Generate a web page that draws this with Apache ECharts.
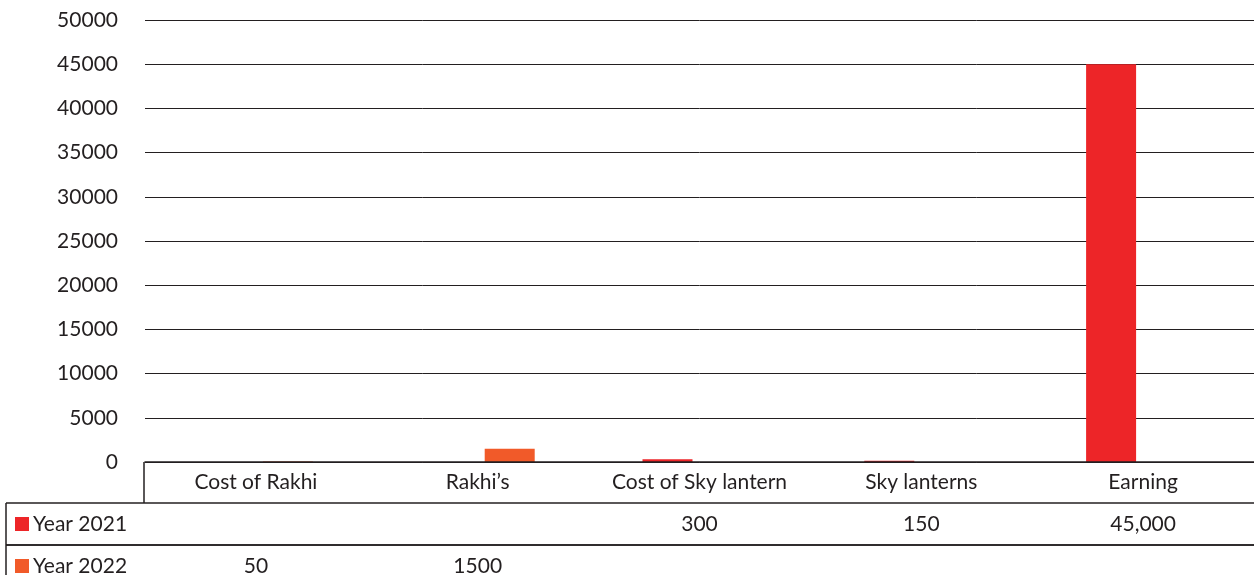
<!DOCTYPE html>
<html>
<head>
<meta charset="utf-8">
<title>Rakhi and Sky lantern earnings</title>
<script src="https://cdn.jsdelivr.net/npm/echarts@6/dist/echarts.min.js"></script>
<style>
  html, body { margin: 0; padding: 0; background: #ffffff; }
  #chart { width: 1254px; height: 575px; }
</style>
</head>
<body>
<div id="chart"></div>
<script>
// Categories and values for the two years
const categories = ['Cost of Rakhi', 'Rakhi\u2019s', 'Cost of Sky lantern', 'Sky lanterns', 'Earning'];
const seriesNames = ['Year 2021', 'Year 2022'];
const year2021 = [null, null, 300, 150, 45000];
const year2022 = [50, 1500, null, null, null];
const yTicks = [0, 5000, 10000, 15000, 20000, 25000, 30000, 35000, 40000, 45000, 50000];

const colors = ['#ED2528', '#F15A29'];
const ink = '#231f20';
const font = 'Lato, "Open Sans", sans-serif';
const fontSize = 21;

const chart = echarts.init(document.getElementById('chart'), null, { renderer: 'canvas' });

chart.setOption({
  animation: false,
  backgroundColor: '#ffffff',
  textStyle: { fontFamily: font, color: ink },
  grid: { left: 145, width: 1114, top: 20, height: 442 },
  xAxis: {
    type: 'category',
    data: categories,
    z: 5,
    axisLine: { show: true, lineStyle: { color: ink, width: 1.5 } },
    axisTick: { show: false },
    axisLabel: { interval: 0, fontSize: fontSize, color: ink, margin: 10, fontFamily: font }
  },
  yAxis: {
    type: 'value',
    min: yTicks[0],
    max: yTicks[yTicks.length - 1],
    interval: yTicks[1] - yTicks[0],
    axisLine: { show: false },
    axisTick: { show: false },
    axisLabel: {
      fontSize: fontSize, color: ink, margin: 27, fontFamily: font,
      formatter: v => String(v)
    },
    splitLine: { show: true, lineStyle: { color: ink, width: 1 } }
  },
  series: [
    {
      name: seriesNames[0], type: 'bar', data: year2021,
      barWidth: 50, barGap: '28%',
      itemStyle: { color: colors[0] }
    },
    {
      name: seriesNames[1], type: 'bar', data: year2022,
      barWidth: 50,
      itemStyle: { color: colors[1] }
    }
  ]
});

// Data table under the axis: category row box, one row per year
function fmt(v) {
  return v >= 10000 ? v.toLocaleString('en-US') : String(v);
}

const axisY = chart.convertToPixel({ yAxisIndex: 0 }, 0);
const plotLeft = 145;
const rightEdge = 1254;
const tableLeft = 6;
const rowH = 42;
const headerBottom = axisY + 41;
const rows = [year2021, year2022];
const lineStyle = { stroke: ink, lineWidth: 1.5 };
const textFont = fontSize + 'px ' + font;

const graphics = [];
// left edge of the category header box
graphics.push({ type: 'line', shape: { x1: plotLeft - 1, y1: axisY, x2: plotLeft - 1, y2: headerBottom }, style: lineStyle });
// left edge of the year rows
graphics.push({ type: 'line', shape: { x1: tableLeft, y1: headerBottom, x2: tableLeft, y2: 575 }, style: lineStyle });

rows.forEach((vals, r) => {
  const top = headerBottom + r * rowH;
  const mid = top + rowH / 2;
  graphics.push({ type: 'line', shape: { x1: tableLeft, y1: top, x2: rightEdge, y2: top }, style: lineStyle });
  graphics.push({ type: 'rect', shape: { x: 15, y: mid - 7, width: 14, height: 14 }, style: { fill: colors[r] } });
  graphics.push({
    type: 'text', x: 33, y: mid,
    style: { text: seriesNames[r], fill: ink, font: textFont, verticalAlign: 'middle' }
  });
  vals.forEach((v, i) => {
    if (v === null) return;
    const cx = chart.convertToPixel({ xAxisIndex: 0 }, categories[i]);
    graphics.push({
      type: 'text', x: cx, y: mid,
      style: { text: fmt(v), fill: ink, font: textFont, align: 'center', verticalAlign: 'middle' }
    });
  });
});
// line below the last full row
graphics.push({ type: 'line', shape: { x1: tableLeft, y1: headerBottom + rowH, x2: rightEdge, y2: headerBottom + rowH }, style: lineStyle });

chart.setOption({ graphic: { elements: graphics } });
</script>
</body>
</html>
